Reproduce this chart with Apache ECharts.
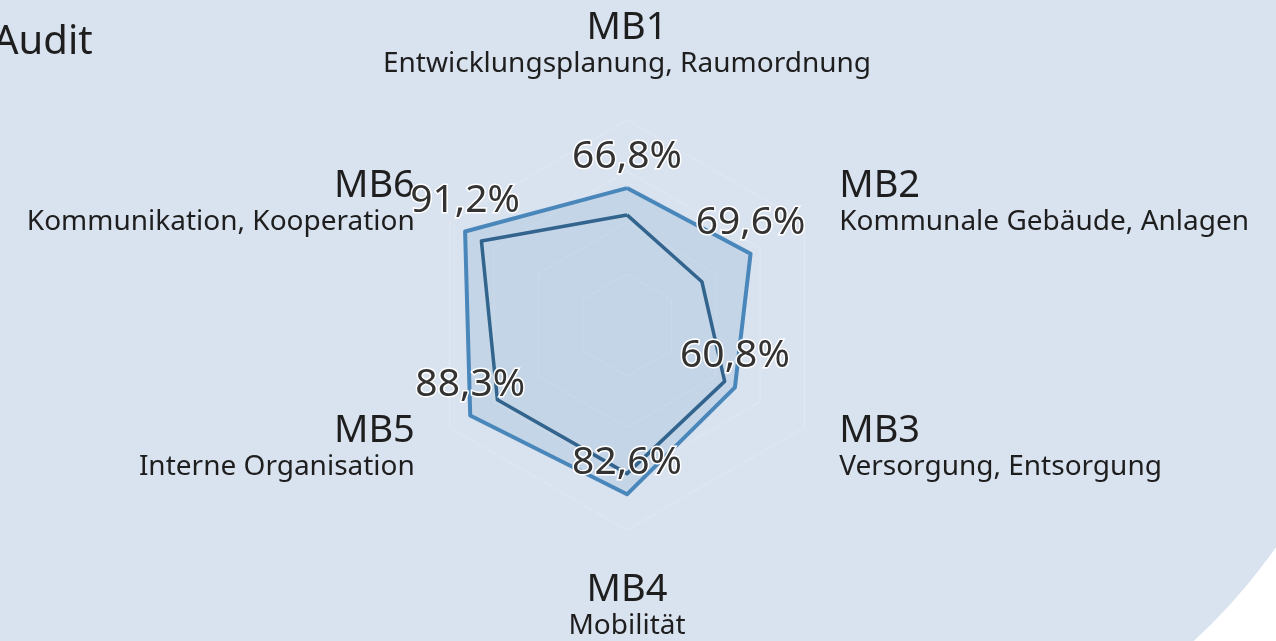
<!DOCTYPE html>
<html>
<head>
<meta charset="utf-8">
<script src="https://cdn.jsdelivr.net/npm/echarts@6/dist/echarts.min.js"></script>
<style>
  html, body { margin: 0; padding: 0; background: #ffffff; overflow: hidden; }
  #bg {
    position: absolute; left: -10px; top: -10px;
    width: 1396px; height: 811px;
    background: #d9e2ef;
    border-bottom-right-radius: 600px;
  }
  #chart { position: absolute; left: 0; top: 0; width: 1276px; height: 641px; }
</style>
</head>
<body>
<div id="bg"></div>
<div id="chart"></div>
<script>
// Messbereiche
var codes = ['MB1', 'MB2', 'MB3', 'MB4', 'MB5', 'MB6'];
var subtitles = [
    'Entwicklungsplanung, Raumordnung',
    'Kommunale Gebäude, Anlagen',
    'Versorgung, Entsorgung',
    'Mobilität',
    'Interne Organisation',
    'Kommunikation, Kooperation'
];
// Erfüllungsgrad in %
var currentValues = [66.8, 69.6, 60.8, 82.6, 88.3, 91.2];
var previousValues = [53.7, 42.2, 55.0, 72.5, 73.0, 82.0];

var font = '"Noto Sans", "Open Sans", sans-serif';

// radar runs counterclockwise, so go MB1, MB6, MB5 ... MB2
var order = [0, 5, 4, 3, 2, 1];
var indicator = [];
var current = [];
var previous = [];
order.forEach(function (k) {
    indicator.push({ name: codes[k], sub: subtitles[k], min: 0, max: 100 });
    current.push(currentValues[k]);
    previous.push(previousValues[k]);
});

var option = {
    backgroundColor: 'transparent',
    title: {
        text: 'Audit',
        left: -12,
        top: 18,
        textStyle: { fontFamily: font, fontSize: 40, fontWeight: 'normal', color: '#1e1e1e' }
    },
    radar: {
        center: [627, 325],
        radius: 205,
        startAngle: 90,
        splitNumber: 4,
        indicator: indicator,
        axisName: {
            formatter: function (name, ind) {
                return '{a|' + name + '}\n{b|' + ind.sub + '}';
            },
            rich: {
                a: { fontFamily: font, fontSize: 38, lineHeight: 40, color: '#1e1e1e' },
                b: { fontFamily: font, fontSize: 28, lineHeight: 32, color: '#1e1e1e' }
            }
        },
        nameGap: 40,
        axisLine: { show: false },
        axisTick: { show: false },
        axisLabel: { show: false },
        splitArea: { show: false },
        splitLine: { lineStyle: { color: 'rgba(255,255,255,0.22)', width: 1 } }
    },
    series: [{
        type: 'radar',
        symbol: 'circle',
        symbolSize: 1,
        itemStyle: { color: 'rgba(0,0,0,0)' },
        z: 3,
        lineStyle: { color: '#4a87bb', width: 4 },
        areaStyle: { color: 'rgba(74,135,187,0.2)' },
        label: {
            show: true,
            position: 'top',
            distance: 11,
            formatter: function (p) { return String(p.value).replace('.', ',') + '%'; },
            fontFamily: font,
            fontSize: 39,
            color: '#333333',
            textBorderColor: '#ffffff',
            textBorderWidth: 3
        },
        data: [{ value: current }]
    }, {
        type: 'radar',
        symbol: 'none',
        z: 2,
        lineStyle: { color: '#2f5f86', width: 3.5 },
        data: [{ value: previous }]
    }]
};

echarts.init(document.getElementById('chart')).setOption(option);
</script>
</body>
</html>
